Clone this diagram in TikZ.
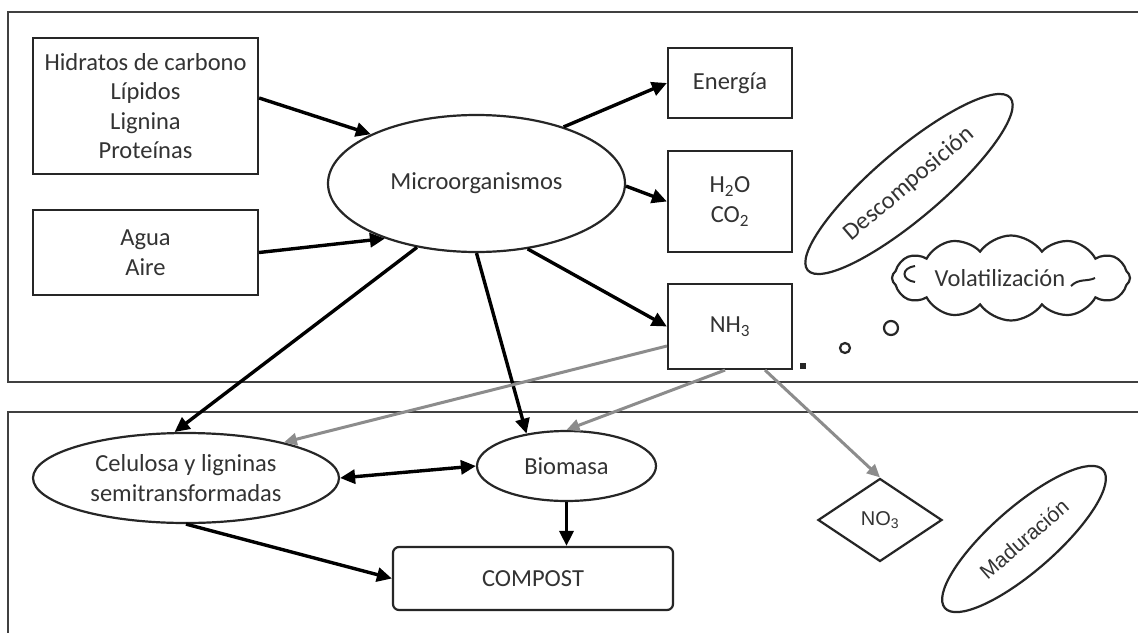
\documentclass[tikz,border=0pt]{standalone}
\usepackage{fontspec}
\setmainfont{Carlito}
\newfontfamily\arialf{Liberation Sans}
\usetikzlibrary{shapes.geometric,shapes.symbols,arrows.meta}
\begin{document}
\begin{tikzpicture}[x=1pt,y=-1pt,
  every node/.style={font=\fontsize{24.5}{29.5}\selectfont, text=black!80, inner sep=0pt, align=center},
  frame/.style={draw=black!75, line width=2.4pt},
  box/.style={draw=black!85, line width=2.2pt, rectangle},
  ell/.style={draw=black!85, line width=2.2pt, ellipse},
  blk/.style={draw=black, line width=3.4pt, -{Triangle[length=15pt,width=14pt]}},
  blkboth/.style={draw=black, line width=3.4pt, {Triangle[length=15pt,width=14pt]}-{Triangle[length=15pt,width=14pt]}},
  gry/.style={draw=black!45, line width=3pt, -{Triangle[length=13pt,width=12pt]}},
  dotc/.style={draw=black!85, line width=2.2pt, circle}
]
\useasboundingbox (0,0) rectangle (1138,632);
\clip (0,0) rectangle (1138,632);
\fill[white] (0,0) rectangle (1138,632);

% frames
\draw[frame] (8,12) rectangle (1150,382);
\draw[frame] (8,650) -- (8,412) -- (1150,412);

% top nodes
\node[box, minimum width=225pt, minimum height=136pt] (hid) at (145.5,106)
  {Hidratos de carbono\\Lípidos\\Lignina\\Proteínas};
\node[box, minimum width=225pt, minimum height=85pt] (agua) at (145.5,252.5)
  {Agua\\Aire};
\node[ell, minimum width=297pt, minimum height=137pt] (micro) at (476.5,183.5)
  {Microorganismos};
\node[box, minimum width=124pt, minimum height=70pt] (ener) at (730,83) {Energía};
\node[box, minimum width=124pt, minimum height=101pt] (h2o) at (730,201.5)
  {H\textsubscript{2}O\\CO\textsubscript{2}};
\node[box, minimum width=124pt, minimum height=85pt] (nh3) at (730,326.5)
  {NH\textsubscript{3}};
\node[ell, minimum width=266pt, minimum height=68pt, rotate=40.4] (desc) at (909,184)
  {Descomposición};
\node[draw=black!85, line width=2.2pt, cloud, cloud puffs=12, cloud puff arc=110,
  cloud ignores aspect, minimum width=238pt, minimum height=85pt] (vol) at (1011,278)
  {Volatilización\hspace*{22pt}};
\draw[black!85, line width=2pt] ([shift={(60,8)}]vol.center)
  .. controls ([shift={(68,0)}]vol.center) and ([shift={(76,4)}]vol.center) .. ([shift={(84,0)}]vol.center);
\draw[black!85, line width=2pt] ([shift={(-96,-12)}]vol.center)
  .. controls ([shift={(-110,-10)}]vol.center) and ([shift={(-110,2)}]vol.center) .. ([shift={(-96,4)}]vol.center);

% bubbles
\node[draw=black!85, fill=black!85, rectangle, minimum size=5pt] (b1) at (803,366) {};
\node[dotc, minimum size=10pt] (b2) at (845,348) {};
\node[dotc, minimum size=14pt] (b3) at (891,328) {};

% bottom nodes
\node[ell, minimum width=306pt, minimum height=90pt] (cel) at (186,478)
  {Celulosa y ligninas\\semitransformadas};
\node[ell, minimum width=179pt, minimum height=70pt] (bio) at (566.5,466) {Biomasa};
\node[box, rounded corners=6pt, minimum width=280pt, minimum height=63pt] (comp) at (533,578.5)
  {COMPOST};
\node[draw=black!85, line width=2.2pt, diamond, minimum width=124pt, minimum height=83pt, aspect=1.5]
  (no3) at (880,520) {\arialf\fontsize{20}{24}\selectfont NO\textsubscript{3}};
\node[ell, minimum width=210pt, minimum height=64pt, rotate=41.1] (mad) at (1024,539)
  {\arialf\fontsize{21}{25}\selectfont Maduración};

% black connectors
\draw[blk] ([yshift=8pt]hid.east) -- (micro.155.1);
\draw[blk] (agua.east) -- (micro.211.2);
\draw[blk] (micro.33.5) -- (ener.west);
\draw[blk] (micro.-1) -- (h2o.west);
\draw[blk] (micro.-52.8) -- (nh3.west);
\draw[blk] (micro.227.3) -- (cel.104.6);
\draw[blk] (micro.south) -- (bio.141.2);
\draw[blkboth] (cel.east) -- (bio.west);
\draw[blk] (cel.south) -- (comp.west);
\draw[blk] (bio.south) -- (bio.south |- comp.north);

% grey connectors
\draw[gry] ([yshift=-19.5pt]nh3.west) -- (cel.20.8);
\draw[gry] ([xshift=-5pt]nh3.south) -- (bio.north);
\draw[gry] ([xshift=35pt]nh3.south) -- (no3.north);
\end{tikzpicture}
\end{document}
